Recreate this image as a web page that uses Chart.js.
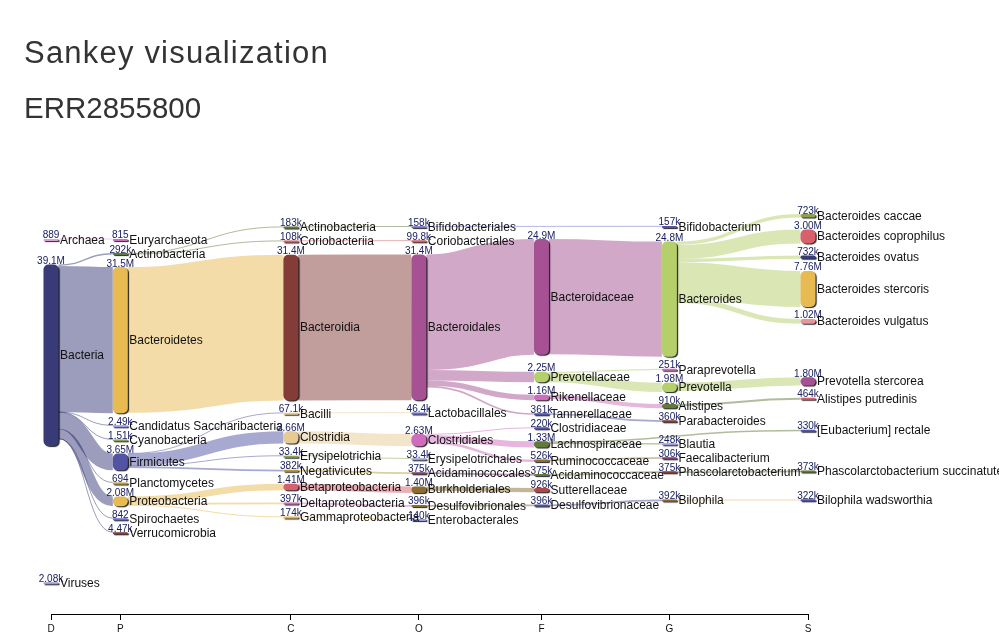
<!DOCTYPE html>
<html>
<head>
<meta charset="utf-8">
<script src="https://cdn.jsdelivr.net/npm/chart.js@4.4.1/dist/chart.umd.min.js"></script>
<style>
  html, body { margin: 0; padding: 0; background: #fff; }
  #wrap { position: relative; width: 999px; height: 643px; overflow: hidden; }
  #c { position: absolute; left: 0; top: 0; }
  .t1 { position: absolute; left: 24px; top: 37px; margin: 0; font: 31px/31px "Liberation Sans", Arial, Helvetica, sans-serif; letter-spacing: 1.2px; color: #333; font-weight: normal; white-space: nowrap; }
  .t2 { position: absolute; left: 24px; top: 93px; margin: 0; font: 29.5px/29.5px "Liberation Sans", Arial, Helvetica, sans-serif; color: #333; font-weight: normal; white-space: nowrap; }
</style>
</head>
<body>
<div id="wrap">
  <canvas id="c" width="999" height="643"></canvas>
  <h1 class="t1">Sankey visualization</h1>
  <h2 class="t2">ERR2855800</h2>
</div>
<script>
// ---------------- DATA ----------------
const rankNames = ['D', 'P', 'C', 'O', 'F', 'G', 'S'];

const taxonNames = [
  'Archaea', 'Bacteria', 'Viruses',
  'Euryarchaeota', 'Actinobacteria', 'Bacteroidetes', 'Candidatus Saccharibacteria', 'Cyanobacteria',
  'Firmicutes', 'Planctomycetes', 'Proteobacteria', 'Spirochaetes', 'Verrucomicrobia',
  'Actinobacteria', 'Coriobacteriia', 'Bacteroidia', 'Bacilli', 'Clostridia', 'Erysipelotrichia',
  'Negativicutes', 'Betaproteobacteria', 'Deltaproteobacteria', 'Gammaproteobacteria',
  'Bifidobacteriales', 'Coriobacteriales', 'Bacteroidales', 'Lactobacillales', 'Clostridiales',
  'Erysipelotrichales', 'Acidaminococcales', 'Burkholderiales', 'Desulfovibrionales', 'Enterobacterales',
  'Bacteroidaceae', 'Prevotellaceae', 'Rikenellaceae', 'Tannerellaceae', 'Clostridiaceae',
  'Lachnospiraceae', 'Ruminococcaceae', 'Acidaminococcaceae', 'Sutterellaceae', 'Desulfovibrionaceae',
  'Bifidobacterium', 'Bacteroides', 'Paraprevotella', 'Prevotella', 'Alistipes', 'Parabacteroides',
  'Blautia', 'Faecalibacterium', 'Phascolarctobacterium', 'Bilophila',
  'Bacteroides caccae', 'Bacteroides coprophilus', 'Bacteroides ovatus', 'Bacteroides stercoris',
  'Bacteroides vulgatus', 'Prevotella stercorea', 'Alistipes putredinis', '[Eubacterium] rectale',
  'Phascolarctobacterium succinatutens', 'Bilophila wadsworthia'
];

// rank index of each taxon (into rankNames)
const taxonRanks = [
  0, 0, 0,
  1, 1, 1, 1, 1, 1, 1, 1, 1, 1,
  2, 2, 2, 2, 2, 2, 2, 2, 2, 2,
  3, 3, 3, 3, 3, 3, 3, 3, 3, 3,
  4, 4, 4, 4, 4, 4, 4, 4, 4, 4,
  5, 5, 5, 5, 5, 5, 5, 5, 5, 5,
  6, 6, 6, 6, 6, 6, 6, 6, 6, 6
];

// clade reads
const taxonReads = [
  889, 39.1e6, 2.08e3,
  815, 292e3, 31.5e6, 2.49e3, 1.51e3, 3.65e6, 694, 2.08e6, 842, 4.47e3,
  183e3, 108e3, 31.4e6, 67.1e3, 2.66e6, 33.4e3, 382e3, 1.41e6, 397e3, 174e3,
  158e3, 99.8e3, 31.4e6, 46.4e3, 2.63e6, 33.4e3, 375e3, 1.40e6, 396e3, 140e3,
  24.9e6, 2.25e6, 1.16e6, 361e3, 220e3, 1.33e6, 526e3, 375e3, 926e3, 396e3,
  157e3, 24.8e6, 251e3, 1.98e6, 910e3, 360e3, 248e3, 306e3, 375e3, 392e3,
  723e3, 3.00e6, 732e3, 7.76e6, 1.02e6, 1.80e6, 464e3, 330e3, 373e3, 322e3
];

// parent taxon index (-1 = root)
const taxonParents = [
  -1, -1, -1,
  0, 1, 1, 1, 1, 1, 1, 1, 1, 1,
  4, 4, 5, 8, 8, 8, 8, 10, 10, 10,
  13, 14, 15, 16, 17, 18, 19, 20, 21, 22,
  25, 25, 25, 25, 27, 27, 27, 29, 30, 31,
  23, 33, 34, 34, 35, 36, 38, 39, 40, 42,
  44, 44, 44, 44, 44, 46, 47, 38, 51, 52
];

// ---------------- STYLE ----------------
const nodeColors = [
  '#de9ed6', '#393b79', '#9c9ede',
  '#ce6dbd', '#637939', '#e7ba52', '#9c9ede', '#8ca252', '#5254a3', '#bd9e39', '#e7ba52', '#6b6ecf', '#843c39',
  '#637939', '#d6616b', '#843c39', '#e7cb94', '#e7cb94', '#8ca252', '#bd9e39', '#d6616b', '#ce6dbd', '#e7ba52',
  '#6b6ecf', '#d6616b', '#a55194', '#6b6ecf', '#ce6dbd', '#9c9ede', '#7b4173', '#8c6d31', '#8c6d31', '#9c9ede',
  '#a55194', '#b5cf6b', '#ce6dbd', '#5254a3', '#5254a3', '#637939', '#8c6d31', '#637939', '#ad494a', '#5254a3',
  '#5254a3', '#b5cf6b', '#ce6dbd', '#b5cf6b', '#637939', '#843c39', '#9c9ede', '#7b4173', '#843c39', '#8c6d31',
  '#8ca252', '#d6616b', '#393b79', '#e7ba52', '#e7969c', '#a55194', '#d6616b', '#5254a3', '#637939', '#5254a3'
];
const linkColorOverride = { 61: '#637939', 62: '#e7cb94' };
const FONT = '"Liberation Sans", Arial, Helvetica, sans-serif';
const NODE_W = 15;

// ---------------- LAYOUT (data units: millions of reads) ----------------
const UNIT = 1e6;
const PAD = 2.6;        // gap between nodes
const MIN_H = 0.43;     // minimum node thickness
const EXT1 = 93;        // bottom of the layout extent
const INIT_H = 120;     // span used to spread the initial positions
const ITER = 64;

// column spacing from the longest label in each column
const colPos = [0];
for (let c = 0; c < rankNames.length - 1; c++) {
  let m = 0;
  taxonNames.forEach((n, i) => { if (taxonRanks[i] === c) m = Math.max(m, n.length); });
  colPos.push(colPos[c] + 5 + m);
}

function computeLayout() {
  const nodes = taxonNames.map((name, i) => {
    const v = taxonReads[i] / UNIT;
    return { i, name, col: taxonRanks[i], value: v, h: Math.max(v, MIN_H), src: [], tgt: [], y: 0 };
  });
  const links = [];
  taxonParents.forEach((p, i) => {
    if (p < 0) return;
    const l = { s: nodes[p], t: nodes[i], v: taxonReads[i] / UNIT, child: i };
    links.push(l); nodes[p].src.push(l); nodes[i].tgt.push(l);
  });
  const cols = rankNames.map(() => []);
  nodes.forEach(n => cols[n.col].push(n));

  cols.forEach(c => {
    let y = 0;
    c.forEach(n => { n.y = y; y += n.h + PAD; });
    const e = (INIT_H - y + PAD) / (c.length + 1);
    c.forEach((n, k) => { n.y += e * (k + 1); });
  });
  const sortLinks = () => nodes.forEach(n => {
    n.src.sort((a, b) => a.t.y - b.t.y || a.t.i - b.t.i);
    n.tgt.sort((a, b) => a.s.y - b.s.y || a.s.i - b.s.i);
  });
  function targetTop(s, t) {
    let y = s.y - (s.src.length - 1) * PAD / 2;
    for (const l of s.src) { if (l.t === t) break; y += l.v + PAD; }
    for (const l of t.tgt) { if (l.s === s) break; y -= l.v; }
    return y;
  }
  function sourceTop(s, t) {
    let y = t.y - (t.tgt.length - 1) * PAD / 2;
    for (const l of t.tgt) { if (l.s === s) break; y += l.v + PAD; }
    for (const l of s.src) { if (l.t === t) break; y -= l.v; }
    return y;
  }
  function resolve() {
    cols.forEach(c => {
      let y0 = 0, n, i;
      for (i = 0; i < c.length; i++) {
        n = c[i];
        const d = y0 - n.y;
        if (d > 0) n.y += d;
        y0 = n.y + n.h + PAD;
      }
      let d = y0 - PAD - EXT1;
      if (d > 0) {
        y0 = n.y -= d;
        for (i = c.length - 2; i >= 0; i--) {
          n = c[i];
          d = n.y + n.h + PAD - y0;
          if (d > 0) n.y -= d;
          y0 = n.y;
        }
      }
    });
  }
  function relaxLR(a) {
    sortLinks();
    cols.forEach(c => c.forEach(t => {
      if (!t.tgt.length) return;
      let s = 0, w = 0;
      t.tgt.forEach(l => { s += targetTop(l.s, t) * l.v; w += l.v; });
      t.y += (s / w - t.y) * a;
    }));
  }
  function relaxRL(a) {
    sortLinks();
    cols.slice().reverse().forEach(c => c.forEach(s => {
      if (!s.src.length) return;
      let q = 0, w = 0;
      s.src.forEach(l => { q += sourceTop(s, l.t) * l.v; w += l.v; });
      s.y += (q / w - s.y) * a;
    }));
  }
  resolve();
  let alpha = 1;
  for (let it = 0; it < ITER; it++) {
    alpha *= 0.99;
    relaxLR(alpha); resolve();
    relaxRL(alpha); resolve();
  }
  sortLinks();
  nodes.forEach(n => {
    let sy = 0; n.src.forEach(l => { l.sy = sy; sy += l.v; });
    let ty = 0; n.tgt.forEach(l => { l.ty = ty; ty += l.v; });
  });
  return { nodes, links };
}
const L = computeLayout();

function fmt(v) {
  if (v >= 1e6) return (v / 1e6).toPrecision(3) + 'M';
  if (v >= 1e3) return (v / 1e3).toPrecision(3) + 'k';
  return String(Math.round(v));
}
function rgba(hex, a) {
  const r = parseInt(hex.slice(1, 3), 16), g = parseInt(hex.slice(3, 5), 16), b = parseInt(hex.slice(5, 7), 16);
  return `rgba(${r},${g},${b},${a})`;
}

const sankeyPlugin = {
  id: 'sankey',
  afterDatasetsDraw(chart) {
    const { ctx, scales: { x, y } } = chart;
    const px = c => x.getPixelForValue(colPos[c]);
    const py = v => y.getPixelForValue(v);
    const k = Math.abs(py(1) - py(0));
    ctx.save();
    L.links.forEach(l => {
      const x0 = px(l.s.col) + NODE_W / 2, x1 = px(l.t.col) - NODE_W / 2;
      const y0 = py(l.s.y + l.sy + l.v / 2), y1 = py(l.t.y + l.ty + l.v / 2);
      const xm = (x0 + x1) / 2;
      ctx.beginPath();
      ctx.moveTo(x0, y0);
      ctx.bezierCurveTo(xm, y0, xm, y1, x1, y1);
      ctx.lineWidth = Math.max(1, l.v * k);
      const col = linkColorOverride[l.child] || nodeColors[taxonParents[l.child]];
      ctx.strokeStyle = rgba(col, 0.5);
      ctx.stroke();
    });
    L.nodes.forEach(n => {
      const cx = px(n.col), top = py(n.y), bot = py(n.y + n.h);
      const h = bot - top, w = NODE_W, left = cx - w / 2;
      const r = Math.min(5, h / 2);
      ctx.save();
      ctx.shadowColor = 'rgba(0,0,0,0.85)';
      ctx.shadowOffsetX = 1.2; ctx.shadowOffsetY = 1; ctx.shadowBlur = 1;
      ctx.beginPath();
      ctx.roundRect(left, top, w, h, r);
      ctx.fillStyle = nodeColors[n.i];
      ctx.fill();
      ctx.restore();
    });
    L.nodes.forEach(n => {
      const cx = px(n.col), top = py(n.y), bot = py(n.y + n.h);
      ctx.font = '10px ' + FONT;
      ctx.fillStyle = '#1b2060';
      ctx.textAlign = 'center'; ctx.textBaseline = 'alphabetic';
      ctx.fillText(fmt(taxonReads[n.i]), cx, top - 0.5);
      ctx.font = '12px ' + FONT;
      ctx.fillStyle = '#111';
      ctx.textAlign = 'left'; ctx.textBaseline = 'middle';
      ctx.fillText(n.name, cx + NODE_W / 2 + 1.5, (top + bot) / 2 + 0.5);
    });
    ctx.restore();
  }
};

new Chart(document.getElementById('c'), {
  type: 'scatter',
  data: {
    datasets: [{
      data: L.nodes.map(n => ({ x: colPos[n.col], y: n.y + n.h / 2 })),
      pointRadius: 0, showLine: false
    }]
  },
  options: {
    responsive: false, animation: false, events: [],
    layout: { padding: { left: 51, right: 191, top: 150, bottom: 5 } },
    plugins: { legend: { display: false }, tooltip: { enabled: false }, title: { display: false } },
    scales: {
      x: {
        type: 'linear', min: 0, max: colPos[colPos.length - 1],
        afterBuildTicks: s => { s.ticks = colPos.map(v => ({ value: v })); },
        ticks: { callback: (v, i) => rankNames[i], autoSkip: false, maxRotation: 0, color: '#111', font: { size: 10, family: FONT }, padding: 3 },
        grid: { drawOnChartArea: false, drawTicks: true, tickLength: 6, color: '#000' },
        border: { display: true, color: '#000', width: 1 }
      },
      y: { display: false, reverse: true, min: -0.6, max: 99.4 }
    }
  },
  plugins: [sankeyPlugin]
});
</script>
</body>
</html>
